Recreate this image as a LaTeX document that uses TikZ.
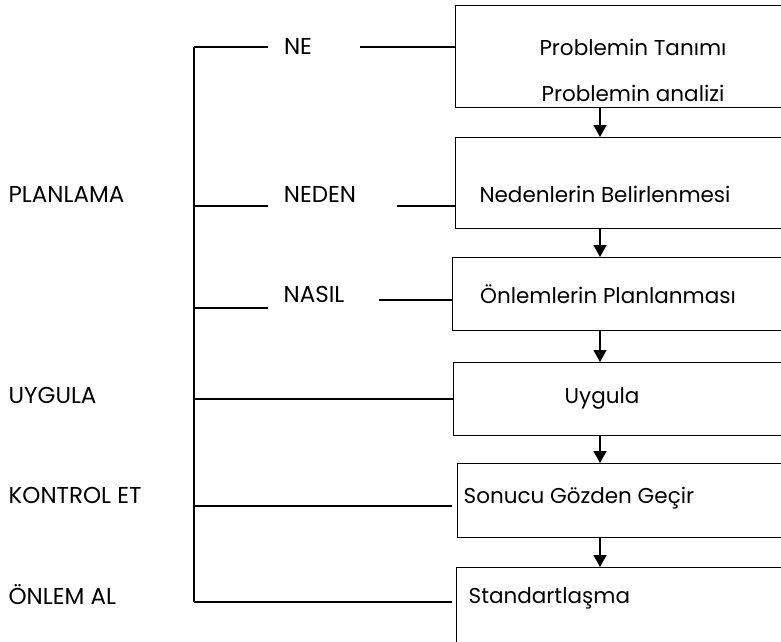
\documentclass[tikz,border=0pt]{standalone}
\usepackage{fontspec}
\setmainfont{Poppins}
\usetikzlibrary{arrows.meta,positioning,calc}

\begin{document}
\begin{tikzpicture}[x=1pt, y=-1pt, >=Stealth,
  font=\fontsize{21.5}{26}\selectfont,
  line width=1.3pt,
  box/.style={draw, anchor=north west, minimum width=420pt, inner sep=0pt},
  lbl/.style={anchor=base west, inner sep=0pt},
  txt/.style={anchor=base, inner sep=0pt},
  caps/.style={font=\fontsize{23}{27}\selectfont},
  arr/.style={-{Triangle[width=13pt,length=12pt]}}]
  \useasboundingbox (0,0) rectangle (781,641);
  \clip (0,0) rectangle (781,641);

  %% Step boxes (right side runs off the page)
  \node[box, minimum height=102pt] (tanim)  at (455,5)   {};
  \node[box, minimum height=91pt]  (neden)  at (455,137) {};
  \node[box, minimum height=73pt]  (onlem)  at (452,257) {};
  \node[box, minimum height=73pt]  (uygula) at (453,362) {};
  \node[box, minimum height=74pt]  (sonuc)  at (457,463) {};
  \node[box, minimum height=100pt] (stand)  at (456,567) {};

  %% Box texts
  \node[txt] (t-tanim)  at (633,55)  {Problemin Tanımı};
  \node[txt] (t-analiz) at (633,101) {Problemin analizi};
  \node[txt] (t-neden)  at (605,202) {Nedenlerin Belirlenmesi};
  \node[txt] (t-onlem)  at (608,303) {Önlemlerin Planlanması};
  \node[txt] (t-uygula) at (602,403) {Uygula};
  \node[lbl] (t-sonuc)  at (463,503) {Sonucu Gözden Geçir};
  \node[lbl] (t-stand)  at (468,603) {Standartlaşma};

  %% Arrows between boxes
  \coordinate (ax) at (600,0);
  \foreach \a/\b in {tanim/neden, neden/onlem, onlem/uygula, uygula/sonuc, sonuc/stand}{
    \draw[arr] (\a.south -| ax) -- (\b.north -| ax);
  }

  %% Phase labels on the left
  \node[lbl, caps] (planlama) at (8,202) {PLANLAMA};
  \node[lbl, caps] (uyg)      at (8,403) {UYGULA};
  \node[lbl, caps] (kontrol)  at (8,503) {KONTROL ET};
  \node[lbl, caps] (onlemal)  at (8,604) {ÖNLEM AL};

  %% Question words
  \node[txt, caps] (ne)     at (298,54)  {NE};
  \node[txt, caps] (nedenq) at (320,202) {NEDEN};
  \node[txt, caps] (nasil)  at (314,302) {NASIL};

  %% Spine and branches
  \coordinate (j-ne)    at (194,47);
  \coordinate (j-neden) at (194,206);
  \coordinate (j-nasil) at (194,308);
  \coordinate (j-uyg)   at (194,399);
  \coordinate (j-kon)   at (194,506);
  \coordinate (j-onl)   at (194,602);
  \draw (j-ne) -- (j-onl);

  \coordinate (ne-l) at (268,47);  \coordinate (ne-r) at (360,47);
  \coordinate (nd-l) at (268,206); \coordinate (nd-r) at (397,206);
  \coordinate (ns-l) at (268,308); \coordinate (ns-r) at (379,300);

  \draw (j-ne) -- (ne-l);
  \draw (ne-r) -- (tanim.west |- ne-r);
  \draw (j-neden) -- (nd-l);
  \draw (nd-r) -- (neden.west |- nd-r);
  \draw (j-nasil) -- (ns-l);
  \draw (ns-r) -- (onlem.west |- ns-r);

  \draw (j-uyg) -- (uygula.west |- j-uyg);
  \draw (j-kon) -- ([xshift=-5pt]sonuc.west |- j-kon);
  \draw (j-onl) -- ([xshift=-4pt]stand.west |- j-onl);

\end{tikzpicture}
\end{document}
